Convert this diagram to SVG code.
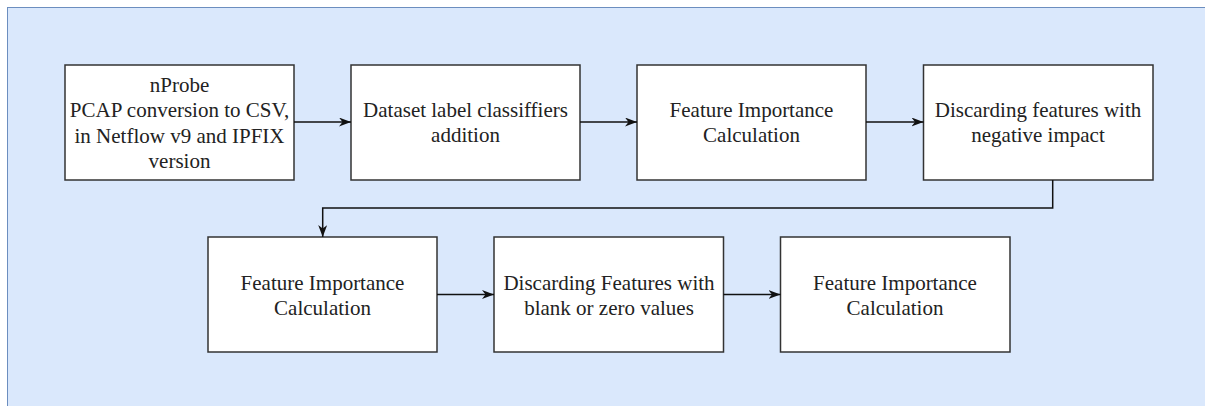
<svg xmlns="http://www.w3.org/2000/svg" width="1205" height="406" viewBox="0 0 1205 406">
<style>
.bg{fill:#dae8fc;stroke:#6c8ebf;stroke-width:1}
.box{fill:#ffffff;stroke:#333333;stroke-width:1.5}
.t{font-family:"Liberation Serif","Times New Roman",serif;font-size:21px;fill:#222222;text-anchor:middle}
.c{fill:none;stroke:#111111;stroke-width:1.5}
</style>
<defs>
<marker id="arr" viewBox="0 0 12 9" refX="12" refY="4.5" markerWidth="12" markerHeight="9" markerUnits="userSpaceOnUse" orient="auto">
<path d="M0,0 L12,4.5 L0,9 L3.5,4.5 Z" fill="#111111"/>
</marker>
</defs>
<rect class="bg" x="7.5" y="7.5" width="1210" height="410"/>
<g id="n1">
<rect class="box" x="65" y="65" width="229" height="115"/>
<text class="t" x="179.5" y="91.5">nProbe</text>
<text class="t" x="179.5" y="117">PCAP conversion to CSV,</text>
<text class="t" x="179.5" y="142.5">in Netflow v9 and IPFIX</text>
<text class="t" x="179.5" y="168">version</text>
</g>
<g id="n2">
<rect class="box" x="351" y="65" width="229" height="115"/>
<text class="t" x="465.5" y="117">Dataset label classiffiers</text>
<text class="t" x="465.5" y="142">addition</text>
</g>
<g id="n3">
<rect class="box" x="637" y="65" width="229" height="115"/>
<text class="t" x="751.5" y="117">Feature Importance</text>
<text class="t" x="751.5" y="142">Calculation</text>
</g>
<g id="n4">
<rect class="box" x="923.5" y="65" width="229.5" height="115"/>
<text class="t" x="1038" y="117">Discarding features with</text>
<text class="t" x="1038" y="142">negative impact</text>
</g>
<g id="n5">
<rect class="box" x="208" y="237" width="229" height="115"/>
<text class="t" x="322.5" y="289.5">Feature Importance</text>
<text class="t" x="322.5" y="314.5">Calculation</text>
</g>
<g id="n6">
<rect class="box" x="494" y="237" width="229.5" height="115"/>
<text class="t" x="609" y="289.5">Discarding Features with</text>
<text class="t" x="609" y="314.5">blank or zero values</text>
</g>
<g id="n7">
<rect class="box" x="780.5" y="237" width="229.5" height="115"/>
<text class="t" x="895" y="289.5">Feature Importance</text>
<text class="t" x="895" y="314.5">Calculation</text>
</g>
<g id="connectors">
<path class="c" d="M294,122 L351,122" marker-end="url(#arr)"/>
<path class="c" d="M580,122 L637,122" marker-end="url(#arr)"/>
<path class="c" d="M866,122 L923.5,122" marker-end="url(#arr)"/>
<path class="c" d="M1052.7,180 L1052.7,208 L322.7,208 L322.7,237" marker-end="url(#arr)"/>
<path class="c" d="M437,294.5 L494,294.5" marker-end="url(#arr)"/>
<path class="c" d="M723.5,294.5 L780.5,294.5" marker-end="url(#arr)"/>
</g>
</svg>
